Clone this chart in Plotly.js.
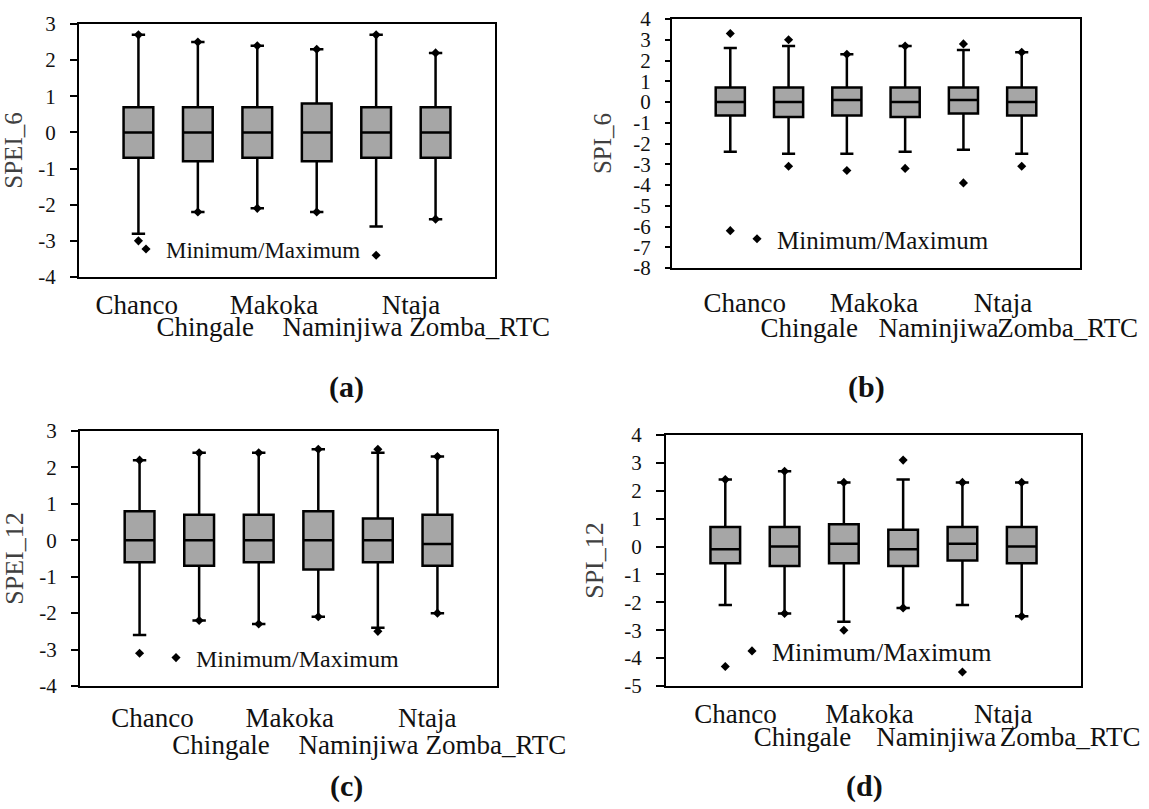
<!DOCTYPE html>
<html><head><meta charset="utf-8">
<script src="https://cdn.plot.ly/plotly-3.0.1.min.js"></script>
<style>html,body{margin:0;padding:0;background:#fff}#chart{width:1149px;height:809px}</style>
</head><body><div id="chart"></div>
<script>
const stations = ["Chanco","Chingale","Makoka","Naminjiwa","Ntaja","Zomba_RTC"];
const legendName = "Minimum/Maximum";

// (a) SPEI_6
const aUpper  = [2.7, 2.5, 2.4, 2.3, 2.7, 2.2];
const aQ3     = [0.7, 0.7, 0.7, 0.8, 0.7, 0.7];
const aMedian = [0, 0, 0, 0, 0, 0];
const aQ1     = [-0.7, -0.8, -0.7, -0.8, -0.7, -0.7];
const aLower  = [-2.8, -2.2, -2.1, -2.2, -2.6, -2.4];
const aMax    = [2.7, 2.5, 2.4, 2.3, 2.7, 2.2];
const aMin    = [-3.0, -2.2, -2.1, -2.2, -3.4, -2.4];
const aTicks  = [-4, -3, -2, -1, 0, 1, 2, 3];

// (b) SPI_6
const bUpper  = [2.6, 2.7, 2.3, 2.7, 2.5, 2.4];
const bQ3     = [0.7, 0.7, 0.7, 0.7, 0.7, 0.7];
const bMedian = [0, 0, 0.1, 0, 0.1, 0];
const bQ1     = [-0.65, -0.72, -0.65, -0.72, -0.56, -0.65];
const bLower  = [-2.4, -2.5, -2.5, -2.4, -2.3, -2.5];
const bMax    = [3.3, 3.0, 2.3, 2.7, 2.8, 2.4];
const bMin    = [-6.2, -3.1, -3.3, -3.2, -3.9, -3.1];
const bTicks  = [-8, -7, -6, -5, -4, -3, -2, -1, 0, 1, 2, 3, 4];

// (c) SPEI_12
const cUpper  = [2.2, 2.4, 2.4, 2.5, 2.4, 2.3];
const cQ3     = [0.8, 0.7, 0.7, 0.8, 0.6, 0.7];
const cMedian = [0, 0, 0, 0, 0, -0.1];
const cQ1     = [-0.6, -0.7, -0.6, -0.8, -0.6, -0.7];
const cLower  = [-2.6, -2.2, -2.3, -2.1, -2.4, -2.0];
const cMax    = [2.2, 2.4, 2.4, 2.5, 2.5, 2.3];
const cMin    = [-3.1, -2.2, -2.3, -2.1, -2.5, -2.0];
const cTicks  = [-4, -3, -2, -1, 0, 1, 2, 3];

// (d) SPI_12
const dUpper  = [2.4, 2.7, 2.3, 2.4, 2.3, 2.3];
const dQ3     = [0.7, 0.7, 0.8, 0.6, 0.7, 0.7];
const dMedian = [-0.1, 0, 0.1, -0.1, 0.1, 0];
const dQ1     = [-0.6, -0.7, -0.6, -0.7, -0.5, -0.6];
const dLower  = [-2.1, -2.4, -2.7, -2.2, -2.1, -2.5];
const dMax    = [2.4, 2.7, 2.3, 3.1, 2.3, 2.3];
const dMin    = [-4.3, -2.4, -3.0, -2.2, -4.5, -2.5];
const dTicks  = [-5, -4, -3, -2, -1, 0, 1, 2, 3, 4];

const W = 1149, H = 809;
const FONT = "Liberation Serif, Times New Roman, serif";

const panels = [
  {letter:"(a)", title:"SPEI_6", upper:aUpper, q3:aQ3, med:aMedian, q1:aQ1, lower:aLower, mx:aMax, mn:aMin, ticks:aTicks,
   frame:[79,24,495,277], lab:{start:136.7, step:68.6, s1:9, s2:31}, tickFont:21, ticklen:7, titleFont:25, legFont:23, leg:[126,249], let:[346,387]},
  {letter:"(b)", title:"SPI_6", upper:bUpper, q3:bQ3, med:bMedian, q1:bQ1, lower:bLower, mx:bMax, mn:bMin, ticks:bTicks,
   frame:[672,19,1080,268], lab:{start:744.7, step:64.6, s1:16, s2:41}, tickFont:21, ticklen:5, titleFont:25, legFont:25, leg:[737,239], let:[866,387]},
  {letter:"(c)", title:"SPEI_12", upper:cUpper, q3:cQ3, med:cMedian, q1:cQ1, lower:cLower, mx:cMax, mn:cMin, ticks:cTicks,
   frame:[80,431,497,686], lab:{start:152.4, step:68.7, s1:13, s2:40}, tickFont:21, ticklen:7, titleFont:26, legFont:24, leg:[156,658], let:[346,786]},
  {letter:"(d)", title:"SPI_12", upper:dUpper, q3:dQ3, med:dMedian, q1:dQ1, lower:dLower, mx:dMax, mn:dMin, ticks:dTicks,
   frame:[666,435,1081,686], lab:{start:735.6, step:66.9, s1:9, s2:32}, tickFont:21, ticklen:8, titleFont:26, legFont:26, leg:[732,651], let:[865,786]}
];

const traces = [];
const layout = {
  width: W, height: H, margin: {l:0, r:0, t:0, b:0},
  paper_bgcolor: "#fff", plot_bgcolor: "#fff",
  font: {family: FONT, color: "#111"},
  showlegend: true, annotations: []
};

panels.forEach((p, k) => {
  const xMain = k*3 + 1, xR1 = k*3 + 2, xR2 = k*3 + 3, yN = k + 1;
  const xn = n => n === 1 ? "x" : "x" + n;
  const xk = n => n === 1 ? "xaxis" : "xaxis" + n;
  const yname = yN === 1 ? "y" : "y" + yN;
  const ykey = yN === 1 ? "yaxis" : "yaxis" + yN;
  const legKey = k === 0 ? "legend" : "legend" + (k + 1);
  const [L, T, R, B] = p.frame;
  const xdom = [L / W, R / W];
  const ydom = [1 - B / H, 1 - T / H];

  traces.push({
    type: "box", x: stations, q1: p.q1, median: p.med, q3: p.q3,
    lowerfence: p.lower, upperfence: p.upper, boxpoints: false,
    width: 0.5, whiskerwidth: 0.45, fillcolor: "#a6a6a6",
    line: {color: "#000", width: 2.5}, showlegend: false,
    xaxis: xn(xMain), yaxis: yname, hoverinfo: "skip"
  });
  traces.push({
    type: "scatter", mode: "markers", name: legendName,
    x: stations.concat(stations), y: p.mx.concat(p.mn),
    marker: {symbol: "diamond", size: 7, color: "#000"},
    xaxis: xn(xMain), yaxis: yname, legend: legKey, showlegend: true, cliponaxis: false
  });

  layout[xk(xMain)] = {
    domain: xdom, anchor: yname, type: "category", range: [-1, 6],
    showline: true, mirror: true, linecolor: "#000", linewidth: 2,
    showticklabels: false, ticks: "", showgrid: false, zeroline: false
  };
  const idx = stations.map((s, i) => i);
  const r0 = -(p.lab.start - L) / p.lab.step;
  const r1 = r0 + (R - L) / p.lab.step;
  [[xR1, 0, p.lab.s1], [xR2, 1, p.lab.s2]].forEach(([n, parity, stand]) => {
    const vals = idx.filter(i => i % 2 === parity);
    // empty trace so that the label-only axis is registered and drawn
    traces.push({type: "scatter", mode: "markers", x: [], y: [], xaxis: xn(n), yaxis: yname,
                 showlegend: false, hoverinfo: "skip"});
    layout[xk(n)] = {
      overlaying: xn(xMain), anchor: yname, side: "bottom", type: "linear",
      range: [r0, r1], tickmode: "array", tickvals: vals, ticktext: vals.map(i => stations[i]),
      tickangle: 0, showline: false, showgrid: false, zeroline: false, ticks: "",
      tickfont: {size: 27, family: FONT, color: "#111"}, ticklabelstandoff: stand
    };
  });
  layout[ykey] = {
    domain: ydom, anchor: xn(xMain), range: [p.ticks[0], p.ticks[p.ticks.length - 1]],
    tickmode: "array", tickvals: p.ticks, ticktext: p.ticks.map(String),
    ticks: "outside", ticklen: p.ticklen, tickwidth: 2, tickcolor: "#000",
    showline: true, mirror: true, linewidth: 2, linecolor: "#000",
    showgrid: false, zeroline: false, ticklabelstandoff: 10,
    tickfont: {size: p.tickFont, family: FONT, color: "#111"},
    title: {text: p.title, font: {size: p.titleFont, family: FONT, color: "#404040"}}
  };
  layout[legKey] = {
    x: p.leg[0] / W, y: 1 - p.leg[1] / H, xanchor: "left", yanchor: "middle",
    bgcolor: "rgba(0,0,0,0)", borderwidth: 0,
    font: {size: p.legFont, family: FONT, color: "#111"}
  };
  layout.annotations.push({
    xref: "paper", yref: "paper", x: p.let[0] / W, y: 1 - p.let[1] / H,
    text: "<b>" + p.letter + "</b>", showarrow: false, xanchor: "center", yanchor: "middle",
    font: {size: 30, family: FONT, color: "#111"}
  });
});

Plotly.newPlot("chart", traces, layout, {staticPlot: true, displayModeBar: false});
</script>
</body></html>
